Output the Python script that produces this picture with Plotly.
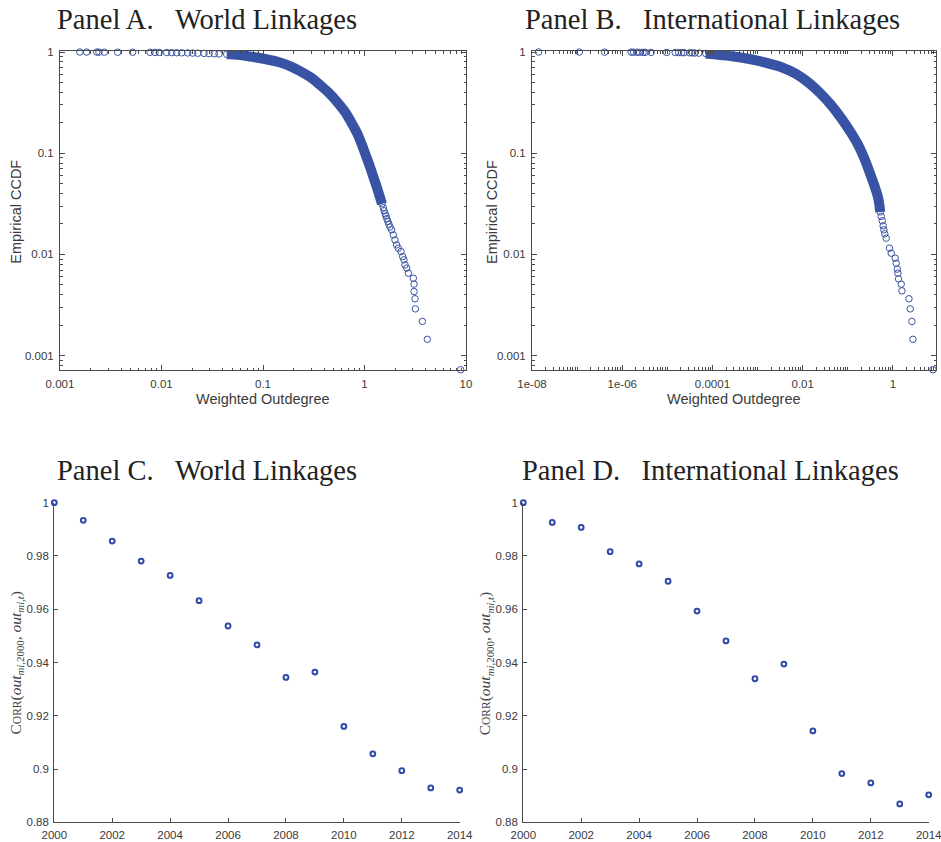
import plotly.graph_objects as go

# ---------------- data ----------------
# Panel A: World linkages, empirical CCDF of weighted outdegree
A_outdeg = [0.00157, 0.00183, 0.00230, 0.00242, 0.00273, 0.00370, 0.00520, 0.00771,
            0.00863, 0.00951, 0.01125, 0.01259, 0.01411, 0.01581, 0.01812, 0.02029,
            0.02274, 0.02624, 0.02938, 0.03311, 0.03687, 0.04387, 0.0530, 0.0745,
            0.1047, 0.1469, 0.1845, 0.2317, 0.2904, 0.3650, 0.4571, 0.5483, 0.6430,
            0.7362, 0.8433, 0.9441, 1.035, 1.133, 1.241, 1.359, 1.487, 1.53, 1.56,
            1.60, 1.629, 1.66, 1.70, 1.74, 1.782,
            1.853, 1.923, 1.996, 2.074, 2.152, 2.29, 2.378, 2.449, 2.506, 2.606, 2.703,
            3.027, 3.076, 3.076, 3.147, 3.17, 3.716, 4.16, 8.87]
A_ccdf = [1.0, 0.999, 0.998, 0.997, 0.996, 0.995, 0.994, 0.993, 0.991, 0.99, 0.988,
          0.986, 0.984, 0.982, 0.979, 0.976, 0.973, 0.969, 0.965, 0.961, 0.957, 0.95,
          0.945, 0.903, 0.853, 0.788, 0.727, 0.649, 0.567, 0.472, 0.385, 0.314, 0.256,
          0.204, 0.1586, 0.1208, 0.0940, 0.0732, 0.0558, 0.0424, 0.0316, 0.0290, 0.0270,
          0.0252, 0.0240, 0.0226, 0.0212, 0.0199, 0.0187,
          0.0175, 0.0156, 0.0139, 0.01244, 0.01153, 0.01068, 0.00953, 0.00885, 0.00789,
          0.00732, 0.00654, 0.00583, 0.00509, 0.0043, 0.00365, 0.0029, 0.00218, 0.00145,
          0.000726]

# Panel B: International linkages
B_outdeg = [1.40e-8, 1.12e-7, 4.08e-7, 1.57e-6, 1.78e-6, 2.11e-6, 2.42e-6, 2.90e-6,
            3.21e-6, 4.36e-6, 9.65e-6, 1.49e-5, 1.78e-5, 2.08e-5, 2.34e-5, 3.13e-5,
            3.56e-5, 4.05e-5, 4.97e-5, 7.10e-5, 1.53e-4, 4.26e-4, 1.18e-3, 3.30e-3,
            7.10e-3, 0.0138, 0.0255, 0.0426, 0.0710, 0.1183, 0.1694, 0.230, 0.297,
            0.384, 0.471, 0.523, 0.55, 0.58, 0.608, 0.63, 0.66, 0.710, 0.840, 0.916,
            1.124, 1.183, 1.247, 1.291, 1.331, 1.527, 1.585, 2.27, 2.42, 2.64, 2.78, 7.74]
B_ccdf = [1.0, 0.999, 0.998, 0.997, 0.996, 0.995, 0.994, 0.993, 0.992, 0.991, 0.99,
          0.988, 0.987, 0.986, 0.985, 0.982, 0.98, 0.978, 0.975, 0.966, 0.934, 0.882,
          0.806, 0.711, 0.607, 0.494, 0.385, 0.300, 0.223, 0.1586, 0.1208, 0.0899,
          0.0669, 0.0486, 0.0362, 0.0263, 0.0238, 0.0215, 0.0192, 0.0175, 0.0160,
          0.01448, 0.01154, 0.0103, 0.00919, 0.0082, 0.00716, 0.00653, 0.00574,
          0.00509, 0.00437, 0.00365, 0.0029, 0.00218, 0.00145, 0.000726]

# Panels C & D: correlation with 2000 outdegree
years = [2000, 2001, 2002, 2003, 2004, 2005, 2006, 2007, 2008, 2009, 2010, 2011, 2012, 2013, 2014]
corr_world = [1.0, 0.9934, 0.9856, 0.9781, 0.9727, 0.9632, 0.9537, 0.9466, 0.9344,
              0.9364, 0.9160, 0.9057, 0.8994, 0.8929, 0.8921]
corr_intl = [1.0, 0.9926, 0.9907, 0.9816, 0.9770, 0.9705, 0.9593, 0.9481, 0.9339,
             0.9394, 0.9143, 0.8983, 0.8948, 0.8869, 0.8903]

A_ticks = [0.001, 0.01, 0.1, 1, 10]
A_ticktext = ['0.001', '0.01', '0.1', '1', '10']
B_ticks = [1e-8, 1e-6, 1e-4, 1e-2, 1]
B_ticktext = ['1e-08', '1e-06', '0.0001', '0.01', '1']
Y_ticks = [0.001, 0.01, 0.1, 1]
Y_ticktext = ['0.001', '0.01', '0.1', '1']
C_yticks = [0.88, 0.90, 0.92, 0.94, 0.96, 0.98, 1.0]
C_yticktext = ['0.88', '0.9', '0.92', '0.94', '0.96', '0.98', '1']
C_xticks = [2000, 2002, 2004, 2006, 2008, 2010, 2012, 2014]

# ---------------- styling ----------------
BLUE = '#3853a3'
BLUE2 = '#2f4aa8'
AX = '#4a4a4a'
TICKFONT = dict(family='Liberation Sans, Arial, sans-serif', size=11.5, color='#3a3a3a')
W, H = 941, 842


def px_dom_x(a, b):
    return [a / W, b / W]


def px_dom_y(top, bottom):
    return [(H - bottom) / H, (H - top) / H]


def log_minor(lo, hi):
    return [m * 10 ** k for k in range(lo, hi) for m in range(2, 10)]


fig = go.Figure()

# Panel A
fig.add_trace(go.Scatter(x=A_outdeg[21:41], y=A_ccdf[21:41], mode='lines',
                         line=dict(color=BLUE, width=10, shape='spline'),
                         xaxis='x', yaxis='y', hoverinfo='skip'))
fig.add_trace(go.Scatter(x=A_outdeg, y=A_ccdf, mode='markers', cliponaxis=False,
                         marker=dict(symbol='circle-open', size=6.5, color=BLUE,
                                     line=dict(width=1, color=BLUE)),
                         xaxis='x', yaxis='y'))
# Panel B
fig.add_trace(go.Scatter(x=B_outdeg[19:36], y=B_ccdf[19:36], mode='lines',
                         line=dict(color=BLUE, width=10, shape='spline'),
                         xaxis='x2', yaxis='y2', hoverinfo='skip'))
fig.add_trace(go.Scatter(x=B_outdeg, y=B_ccdf, mode='markers', cliponaxis=False,
                         marker=dict(symbol='circle-open', size=6.5, color=BLUE,
                                     line=dict(width=1, color=BLUE)),
                         xaxis='x2', yaxis='y2'))
# Panel C
fig.add_trace(go.Scatter(x=years, y=corr_world, mode='markers', cliponaxis=False,
                         marker=dict(symbol='circle-open', size=4.8, color=BLUE2,
                                     line=dict(width=2, color=BLUE2)),
                         xaxis='x3', yaxis='y3'))
# Panel D
fig.add_trace(go.Scatter(x=years, y=corr_intl, mode='markers', cliponaxis=False,
                         marker=dict(symbol='circle-open', size=4.8, color=BLUE2,
                                     line=dict(width=2, color=BLUE2)),
                         xaxis='x4', yaxis='y4'))

box_common = dict(showline=True, linecolor=AX, linewidth=1, mirror='allticks',
                  ticks='inside', ticklen=5, tickcolor=AX, tickwidth=1,
                  showgrid=False, zeroline=False, tickfont=TICKFONT,
                  ticklabelstandoff=3, automargin=False, ticklabeloverflow='allow')
open_common = dict(showline=True, linecolor=AX, linewidth=1.2, mirror=False,
                   ticks='inside', ticklen=4, tickcolor=AX, tickwidth=1,
                   showgrid=False, zeroline=False, tickfont=TICKFONT,
                   ticklabelstandoff=2, automargin=False, ticklabeloverflow='allow')

YR = [-3.1415, 0.01]
# odd decades in panel B drawn as unlabeled ticks
B_minor = log_minor(-8, 1) + [1e-7, 1e-5, 1e-3, 1e-1]

fig.update_layout(
    width=W, height=H,
    margin=dict(l=0, r=0, t=0, b=0, autoexpand=False),
    paper_bgcolor='white', plot_bgcolor='white',
    showlegend=False,
    xaxis=dict(domain=px_dom_x(60, 466), anchor='y', type='log', range=[-3, 1],
               tickvals=A_ticks, ticktext=A_ticktext,
               minor=dict(tickvals=log_minor(-3, 1), ticks='inside', ticklen=2.5,
                          tickcolor=AX, showgrid=False),
               **box_common),
    yaxis=dict(domain=px_dom_y(51, 370), anchor='x', type='log', range=YR,
               tickvals=Y_ticks, ticktext=Y_ticktext,
               minor=dict(tickvals=log_minor(-4, 0), ticks='inside', ticklen=2.5,
                          tickcolor=AX, showgrid=False),
               **box_common),
    xaxis2=dict(domain=px_dom_x(532, 936), anchor='y2', type='log', range=[-8, 0.955],
                tickvals=B_ticks, ticktext=B_ticktext,
                minor=dict(tickvals=B_minor, ticks='inside', ticklen=3,
                           tickcolor=AX, showgrid=False),
                **box_common),
    yaxis2=dict(domain=px_dom_y(51, 370), anchor='x2', type='log', range=YR,
                tickvals=Y_ticks, ticktext=Y_ticktext,
                minor=dict(tickvals=log_minor(-4, 0), ticks='inside', ticklen=2.5,
                           tickcolor=AX, showgrid=False),
                **box_common),
    xaxis3=dict(domain=px_dom_x(54.3, 459.7), anchor='y3', range=[2000, 2014],
                tickvals=C_xticks, **open_common),
    yaxis3=dict(domain=px_dom_y(502.7, 822.3), anchor='x3', range=[0.88, 1.0],
                tickvals=C_yticks, ticktext=C_yticktext, **open_common),
    xaxis4=dict(domain=px_dom_x(523.3, 928.7), anchor='y4', range=[2000, 2014],
                tickvals=C_xticks, **open_common),
    yaxis4=dict(domain=px_dom_y(502.7, 822.3), anchor='x4', range=[0.88, 1.0],
                tickvals=C_yticks, ticktext=C_yticktext, **open_common),
)

SERIF = 'Liberation Serif, Times New Roman, serif'
SANS = 'Liberation Sans, Arial, sans-serif'
NB = '\u00a0\u00a0\u00a0'


def ann(text, xpx, ypx, font, xanchor='center', yanchor='middle', angle=0):
    fig.add_annotation(text=text, x=xpx / W, y=(H - ypx) / H, xref='paper', yref='paper',
                       xanchor=xanchor, yanchor=yanchor, showarrow=False,
                       textangle=angle, font=font)


title_font = dict(family=SERIF, size=28.5, color='#222222')
ann('Panel A.' + NB + 'World Linkages', 55, 19.5, title_font, xanchor='left')
ann('Panel B.' + NB + 'International Linkages', 523.3, 19.5, title_font, xanchor='left')
ann('Panel C.' + NB + 'World Linkages', 55, 470.5, title_font, xanchor='left')
ann('Panel D.' + NB + 'International Linkages', 520, 470.5, title_font, xanchor='left')

lab_font = dict(family=SANS, size=14.5, color='#3a3a3a')
ann('Weighted Outdegree', 262.7, 399, lab_font)
ann('Weighted Outdegree', 733.7, 399, lab_font)
ann('Empirical CCDF', 15.7, 212, lab_font, angle=-90)
ann('Empirical CCDF', 492, 212, lab_font, angle=-90)

corr_text = ('C<span style="font-size:11.5px">ORR</span>(<i>out</i><sub><i>mi</i>,2000</sub>,'
             ' <i>out</i><sub><i>mi,t</i></sub>)')
corr_font = dict(family=SERIF, size=15.5, color='#444444')
ann(corr_text, 15.5, 663, corr_font, angle=-90)
ann(corr_text, 485.3, 663, corr_font, angle=-90)

fig.write_html('out.html',
               config={'displayModeBar': False},
               post_script="document.body.style.margin='0';document.body.style.overflow='hidden';")
